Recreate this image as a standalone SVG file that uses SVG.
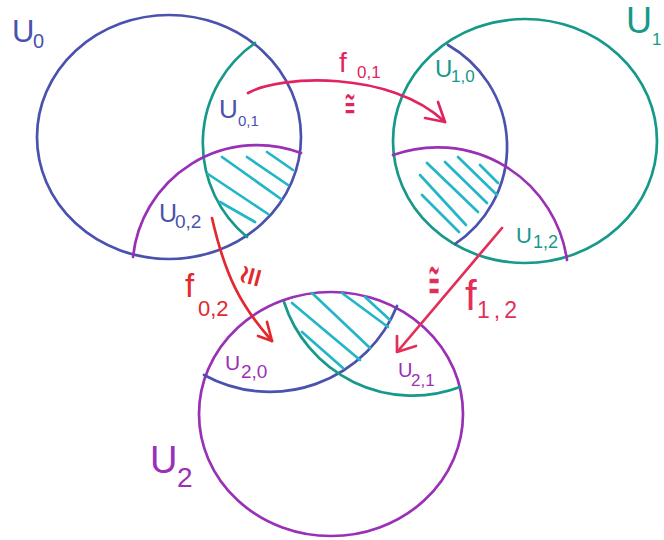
<svg xmlns="http://www.w3.org/2000/svg" width="664" height="540" viewBox="0 0 664 540">
<style>
.ln{fill:none;stroke-width:2.7;stroke-linecap:round;stroke-linejoin:round}
.blue{stroke:#4a52ad}
.teal{stroke:#16998a}
.purple{stroke:#9a30b6}
.hatch{fill:none;stroke:#22b6c9;stroke-width:2.7;stroke-linecap:round}
.pink{stroke:#e2245e}
.red{stroke:#e3282e}
.rose{stroke:#e22f5a}
text{font-family:"Liberation Sans","DejaVu Sans",sans-serif}
.sym{font-family:"DejaVu Sans",sans-serif}
.tb{fill:#4a52ad}
.tt{fill:#16998a}
.tp{fill:#9a30b6}
.tpk{fill:#e2245e}
.tr{fill:#e3282e}
.tro{fill:#e22f5a}
</style>
<rect width="664" height="540" fill="#ffffff"/>
<g id="U0">
  <ellipse class="ln blue" cx="169" cy="137" rx="132" ry="122"/>
  <path class="ln teal" d="M255,43 A122,122 0 0 0 247,237"/>
  <path class="ln purple" d="M133,257 A125,125 0 0 1 301,153"/>
  <g class="hatch">
    <path d="M267,152 L293,170"/>
    <path d="M247,157 L288,185"/>
    <path d="M222,157 L281,199"/>
    <path d="M208,174 L268,214"/>
    <path d="M220,202 L255,222"/>
  </g>
  <text class="tb" x="12" y="42" font-size="31">U<tspan x="33" y="48" font-size="20">0</tspan></text>
  <text class="tb" x="219" y="118" font-size="26">U<tspan x="238" y="126" font-size="15">0,1</tspan></text>
  <text class="tb" x="159" y="222" font-size="25">U<tspan x="175" y="228" font-size="19">0,2</tspan></text>
</g>
<g id="U1">
  <ellipse class="ln teal" cx="525" cy="141" rx="132" ry="122"/>
  <path class="ln blue" d="M448,45 A117,117 0 0 1 455,244"/>
  <path class="ln purple" d="M393,155 A131,131 0 0 1 567,260"/>
  <g class="hatch">
    <path d="M480,165 L498,183"/>
    <path d="M458,157 L497,195"/>
    <path d="M445,162 L487,203"/>
    <path d="M427,163 L478,212"/>
    <path d="M420,175 L466,225"/>
    <path d="M422,195 L459,232"/>
  </g>
  <text class="tt" x="626" y="33" font-size="36">U<tspan x="652" y="45" font-size="17">1</tspan></text>
  <text class="tt" x="435" y="77" font-size="24">U<tspan x="451" y="82" font-size="17">1,0</tspan></text>
  <text class="tt" x="516" y="243" font-size="22">U<tspan x="533" y="248" font-size="18">1,2</tspan></text>
</g>
<g id="U2">
  <ellipse class="ln purple" cx="331" cy="414" rx="132" ry="122"/>
  <path class="ln blue" d="M204,375 A137,137 0 0 0 397,306"/>
  <path class="ln teal" d="M284,302 A135,135 0 0 0 460,387"/>
  <g class="hatch">
    <path d="M292,303 L360,360"/>
    <path d="M312,293 L370,348"/>
    <path d="M342,293 L388,327"/>
    <path d="M365,297 L390,320"/>
    <path d="M302,332 L343,368"/>
  </g>
  <text class="tp" x="150" y="473" font-size="38">U<tspan x="177" y="487" font-size="28">2</tspan></text>
  <text class="tp" x="225" y="370" font-size="21">U<tspan x="241" y="378" font-size="19">2,0</tspan></text>
  <text class="tp" x="398" y="377" font-size="20">U<tspan x="411" y="386" font-size="17">2,1</tspan></text>
</g>
<g id="connectors">
  <g id="f01">
    <path class="ln pink" d="M248,93 C280,75 390,70 445,122"/>
    <path class="ln pink" d="M438,102 L445,122 L425,118"/>
    <text class="tpk" x="339" y="72" font-size="28">f<tspan x="357" y="78" font-size="17">0,1</tspan></text>
    <text class="tpk sym" text-anchor="middle" dominant-baseline="central" font-size="22" transform="translate(350,104) scale(0.62,1.8)">≅</text>
  </g>
  <g id="f02">
    <path class="ln red" d="M212,218 C225,275 240,305 272,341"/>
    <path class="ln red" d="M267,322 L272,341 L258,336"/>
    <text class="tr" x="185" y="297" font-size="33">f<tspan x="198" y="316" font-size="22">0,2</tspan></text>
    <text class="tr sym" text-anchor="middle" dominant-baseline="central" font-size="26" transform="translate(250,276) rotate(-75) scale(1,1.4)">≅</text>
  </g>
  <g id="f12">
    <path class="ln rose" d="M502,228 L398,351"/>
    <path class="ln rose" d="M397,336 L397,352 L416,346"/>
    <text class="tro" x="465" y="310" font-size="42">f<tspan x="477" y="318" font-size="23" letter-spacing="4">1,2</tspan></text>
    <text class="tro sym" text-anchor="middle" dominant-baseline="central" font-size="30" transform="translate(434,279) scale(0.48,1.8)">≅</text>
  </g>
</g>
</svg>
